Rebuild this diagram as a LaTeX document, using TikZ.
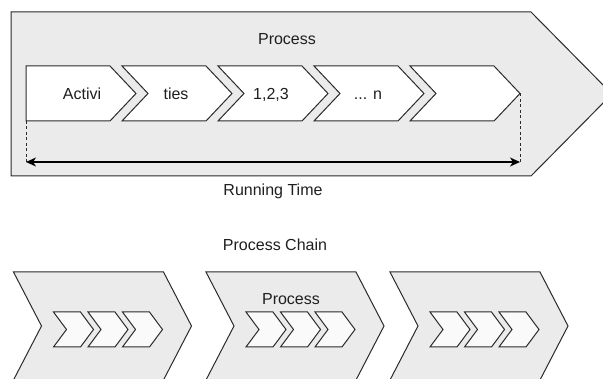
\documentclass[tikz,border=0pt]{standalone}
\usepackage{fontspec}
\setmainfont{Liberation Sans}
\usetikzlibrary{arrows.meta}

\definecolor{shapefill}{HTML}{EBEBEB}
\definecolor{chipfill}{HTML}{FAFAFA}
\definecolor{ink}{HTML}{2B2B2B}
\definecolor{txt}{HTML}{1F1F1F}

% step shape: name, style, left x, top y, width to tip, height, tip depth, notch (1/0)
\newcommand\stepshape[8]{%
  \path[#2] (#3,#4) -- ++({#5-#7},0) -- ++(#7,{#6/2}) -- ++(-#7,{#6/2})
    -- ++({-(#5-#7)},0) -- ++({#8*#7},{-#6/2}) -- cycle;
  \coordinate (#1-sw) at (#3,{#4+#6});
  \coordinate (#1-tip) at ({#3+#5},{#4+#6/2});
}

\tikzset{
  outline/.style={draw=ink, line width=1pt, line join=miter},
  bigstep/.style={outline, fill=shapefill},
  activity/.style={outline, fill=white},
  chip/.style={outline, fill=chipfill},
  label/.style={text=txt, font=\fontsize{16}{19}\selectfont, anchor=base, inner sep=0pt},
  guide/.style={draw=ink, line width=1pt, dash pattern=on 3pt off 2.5pt},
  span/.style={draw=black, line width=1.2pt,
    {Stealth[length=10pt,width=9pt,inset=3pt]}-{Stealth[length=10pt,width=9pt,inset=3pt]}}
}

\begin{document}
\begin{tikzpicture}[x=1pt,y=-1pt]
\useasboundingbox (0,0) rectangle (603,379);
\clip (0,0) rectangle (603,379);
\fill[white] (0,0) rectangle (603,379);

% the process with its activities
\stepshape{main}{bigstep}{11}{12}{601}{164}{81}{0}
\node[label] (ptitle) at (287,45) {Process};

\stepshape{a1}{activity}{26}{66}{110}{55}{26}{0}
\stepshape{a2}{activity}{122}{66}{110}{55}{26}{1}
\stepshape{a3}{activity}{218}{66}{110}{55}{26}{1}
\stepshape{a4}{activity}{314}{66}{110}{55}{26}{1}
\stepshape{a5}{activity}{410}{66}{110}{55}{26}{1}

\node[label] (t1) at (82,99.5) {Activi};
\node[label] (t2) at (176,99.5) {ties};
\node[label] (t3) at (271,99.5) {1,2,3};
\node[label] (t4) at (368,99.5) {... n};

% running time span
\coordinate (rtl) at (26,162);
\coordinate (rtr) at (520,162);
\draw[guide] (a1-sw) -- (rtl);
\draw[guide] (a5-tip) -- (rtr);
\draw[span] (rtl) -- (rtr);
\node[label] (rtime) at (273,196) {Running Time};

% process chain
\node[label] (chain) at (275,251) {Process Chain};
\foreach \k/\x in {1/13.5,2/206,3/390}{
  \stepshape{c\k}{bigstep}{\x}{272}{178}{108}{28}{1}
  \foreach \j/\dx in {1/40,2/74.5,3/109}{
    \stepshape{c\k s\j}{chip}{\x+\dx}{312}{40}{35}{13}{1}
  }
}
\node[label] (cproc) at (291,305) {Process};
\end{tikzpicture}
\end{document}
